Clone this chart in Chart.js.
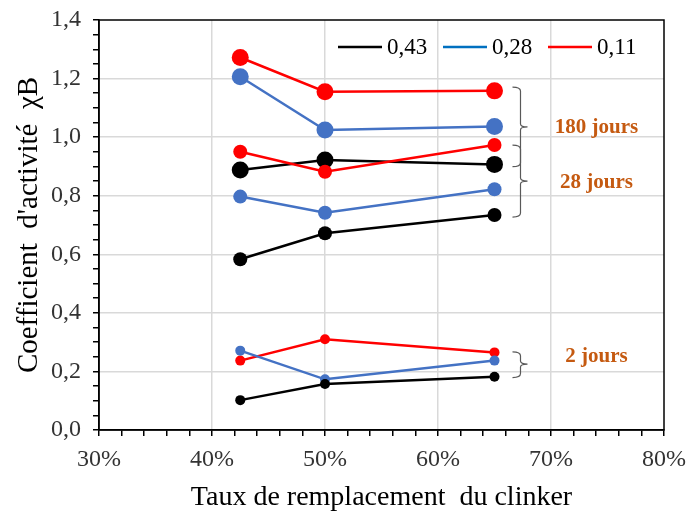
<!DOCTYPE html>
<html>
<head>
<meta charset="utf-8">
<script src="https://cdn.jsdelivr.net/npm/chart.js@4.4.0/dist/chart.umd.min.js"></script>
<style>
html, body { margin: 0; padding: 0; background: #fff; }
#wrap { width: 689px; height: 515px; }
</style>
</head>
<body>
<div id="wrap"><canvas id="myChart"></canvas></div>
<script>
// taux de remplacement (%)
const taux = [42.5, 50, 65];
const ratios = ['0,43', '0,28', '0,11'];
const colors = ['#000000', '#4472C4', '#FF0000'];
const legendColors = ['#000000', '#0070C0', '#FF0000'];

// 180 jours
const j180_043 = [0.888, 0.922, 0.907];
const j180_028 = [1.206, 1.024, 1.036];
const j180_011 = [1.272, 1.155, 1.158];
// 28 jours
const j28_043 = [0.583, 0.672, 0.734];
const j28_028 = [0.797, 0.742, 0.822];
const j28_011 = [0.950, 0.882, 0.973];
// 2 jours
const j2_043 = [0.102, 0.157, 0.182];
const j2_028 = [0.271, 0.173, 0.237];
const j2_011 = [0.237, 0.310, 0.265];

const groups = [
  { series: [j2_043, j2_028, j2_011], radius: 5 },
  { series: [j28_043, j28_028, j28_011], radius: 7 },
  { series: [j180_043, j180_028, j180_011], radius: 8.5 }
];

// accolades : [haut, pointe, bas], position du texte
const braces = [
  { range: [1.171, 1.035, 0.899], textAt: 1.035, label: '180 jours' },
  { range: [0.973, 0.850, 0.727], textAt: 0.847, label: '28 jours' },
  { range: [0.267, 0.225, 0.179], textAt: 0.253, label: '2 jours' }
];

const datasets = [];
groups.forEach(function(g) {
  g.series.forEach(function(vals, i) {
    datasets.push({
      label: ratios[i],
      data: vals.map(function(v, k) { return { x: taux[k], y: v }; }),
      borderColor: colors[i],
      backgroundColor: colors[i],
      borderWidth: 2.5,
      pointRadius: g.radius,
      pointHoverRadius: g.radius,
      pointBorderWidth: 0,
      tension: 0
    });
  });
});

const serif = 'Liberation Serif, Times New Roman, serif';

const extras = {
  id: 'extras',
  afterDraw: function(chart) {
    const ctx = chart.ctx;
    const a = chart.chartArea;
    const xs = chart.scales.x, ys = chart.scales.y;
    ctx.save();
    // cadre
    ctx.strokeStyle = '#000';
    ctx.lineWidth = 1.5;
    ctx.strokeRect(a.left, a.top, a.right - a.left, a.bottom - a.top);

    // légende
    ctx.font = '23px ' + serif;
    ctx.textBaseline = 'middle';
    ctx.textAlign = 'left';
    const ly = a.top + 27;
    let lx = a.right - 326;
    ratios.forEach(function(r, i) {
      ctx.strokeStyle = legendColors[i];
      ctx.lineWidth = 2.5;
      ctx.beginPath();
      ctx.moveTo(lx, ly);
      ctx.lineTo(lx + 44, ly);
      ctx.stroke();
      ctx.fillStyle = '#000';
      ctx.fillText(r, lx + 49, ly + 1);
      lx += 105;
    });

    // accolades
    const bx = xs.getPixelForValue(taux[2]) + 18;
    braces.forEach(function(b) {
      const y0 = ys.getPixelForValue(b.range[0]);
      const ym = ys.getPixelForValue(b.range[1]);
      const y1 = ys.getPixelForValue(b.range[2]);
      ctx.strokeStyle = '#595959';
      ctx.lineWidth = 1.2;
      ctx.beginPath();
      ctx.moveTo(bx, y0);
      ctx.quadraticCurveTo(bx + 8, y0, bx + 8, y0 + 4);
      ctx.lineTo(bx + 8, ym - 3);
      ctx.quadraticCurveTo(bx + 8, ym, bx + 15, ym);
      ctx.moveTo(bx + 15, ym);
      ctx.quadraticCurveTo(bx + 8, ym, bx + 8, ym + 3);
      ctx.lineTo(bx + 8, y1 - 4);
      ctx.quadraticCurveTo(bx + 8, y1, bx, y1);
      ctx.stroke();
      ctx.fillStyle = '#C55A11';
      ctx.font = 'bold 21px ' + serif;
      ctx.textAlign = 'center';
      ctx.fillText(b.label, bx + 84, ys.getPixelForValue(b.textAt) + 1);
    });
    ctx.restore();
  }
};

const ctx = document.getElementById('myChart').getContext('2d');
const myChart = new Chart(ctx, {
  type: 'line',
  data: { datasets: datasets },
  plugins: [extras],
  options: {
    responsive: true,
    maintainAspectRatio: false,
    animation: false,
    layout: { padding: { left: 4, right: 25, top: 20, bottom: 1 } },
    plugins: {
      legend: { display: false },
      tooltip: { enabled: false }
    },
    scales: {
      x: {
        type: 'linear',
        min: 30,
        max: 80,
        ticks: {
          stepSize: 2,
          autoSkip: false,
          maxRotation: 0,
          padding: 9,
          color: '#333',
          font: { family: serif, size: 24 },
          callback: function(v) { return v % 10 === 0 ? v + '%' : ''; }
        },
        grid: {
          color: function(c) {
            const v = c.tick ? c.tick.value : 0;
            return (v % 10 === 0 && v > 30 && v < 80) ? '#d9d9d9' : 'rgba(0,0,0,0)';
          },
          lineWidth: 1.5,
          tickColor: '#000',
          tickLength: 6
        },
        border: { color: '#000', width: 1.5 },
        title: {
          display: true,
          text: 'Taux de remplacement  du clinker',
          color: '#000',
          font: { family: serif, size: 28 },
          padding: { top: 4, bottom: 0 }
        },
        afterFit: function(s) {
          s.height = 84;
          s.paddingLeft = 0;
          s.paddingRight = 0;
        }
      },
      y: {
        min: 0,
        max: 1.4,
        ticks: {
          stepSize: 0.05,
          autoSkip: false,
          padding: 12,
          color: '#333',
          font: { family: serif, size: 24 },
          callback: function(v) {
            return Math.round(v * 100) % 20 === 0 ? v.toFixed(1).replace('.', ',') : '';
          }
        },
        grid: {
          color: function(c) {
            const v = c.tick ? Math.round(c.tick.value * 100) : 0;
            return (v % 20 === 0 && v > 0 && v < 140) ? '#d9d9d9' : 'rgba(0,0,0,0)';
          },
          lineWidth: 1.5,
          tickColor: '#000',
          tickLength: 6
        },
        border: { color: '#000', width: 1.5 },
        title: {
          display: true,
          text: "Coefficient  d'activité  χB",
          color: '#000',
          font: { family: serif, size: 29 },
          padding: { top: 8, bottom: 4 }
        },
        afterFit: function(s) {
          s.width = 95;
          s.paddingTop = 0;
          s.paddingBottom = 0;
        }
      }
    }
  }
});
</script>
</body>
</html>
